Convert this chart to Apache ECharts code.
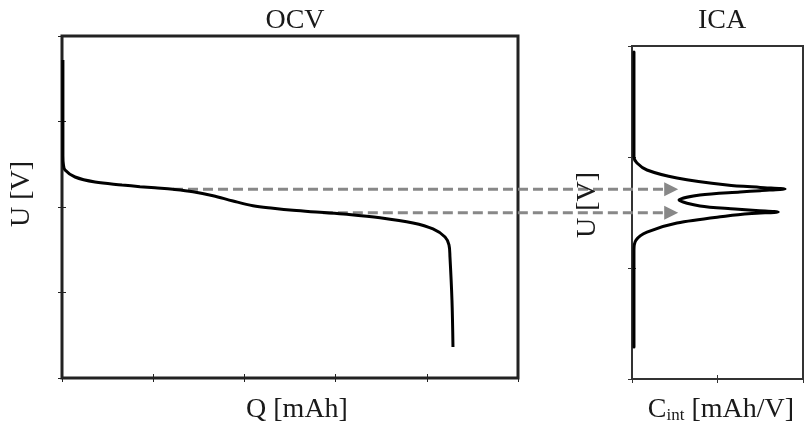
<!DOCTYPE html>
<html>
<head>
<meta charset="utf-8">
<script src="https://cdn.jsdelivr.net/npm/echarts@6/dist/echarts.min.js"></script>
<style>html,body{margin:0;padding:0;background:#fff}#c{width:805px;height:428px}</style>
</head>
<body>
<div id="c"></div>
<script>
// OCV curve: charge Q (axis 0..5) vs voltage U (axis 0..4)
var ocvQ = [0.01, 0.01, 0.015, 0.033, 0.143, 0.362, 0.658, 0.855, 1.02, 1.217, 1.436, 1.656, 1.875, 2.094, 2.314, 2.533, 2.829, 3.125, 3.487, 3.849, 4.068, 4.20, 4.243, 4.254, 4.276, 4.287];
var ocvU = [3.72, 2.60, 2.50, 2.433, 2.351, 2.292, 2.258, 2.238, 2.224, 2.207, 2.179, 2.132, 2.070, 2.015, 1.985, 1.961, 1.938, 1.915, 1.875, 1.813, 1.743, 1.649, 1.556, 1.415, 0.91, 0.363];
// ICA curve: incremental capacity C (axis 0..2) vs voltage U (axis 0..3)
var icaC = [0.023, 0.023, 0.058, 0.175, 0.526, 1.111, 1.50, 1.79, 1.50, 1.263, 0.795, 0.55, 0.795, 1.205, 1.45, 1.71, 1.40, 1.111, 0.526, 0.175, 0.047, 0.023, 0.023];
var icaU = [2.946, 2.00, 1.946, 1.883, 1.811, 1.748, 1.726, 1.712, 1.697, 1.685, 1.658, 1.613, 1.559, 1.532, 1.518, 1.505, 1.490, 1.468, 1.405, 1.324, 1.252, 1.162, 0.288];
// Arrows: from OCV plateaus to ICA peaks
var arrowQ = [1.217, 2.86];
var arrowU = [2.207, 1.934];
var arrowEndC = [0.54, 0.54];
// Axis ranges / tick intervals
var ocvXMax = 5, ocvYMax = 4, icaXMax = 2, icaYMax = 3;
var titles = ['OCV', 'ICA'];

function zip(a, b) { return a.map(function (v, i) { return [v, b[i]]; }); }

var FONT = 'Liberation Serif';
var chart = echarts.init(document.getElementById('c'), null, {renderer: 'canvas'});

function ax(pos, grid, max, color) {
  return {
    type: 'value', gridIndex: grid, position: pos, min: 0, max: max, interval: 1,
    axisLine: {show: false},
    axisTick: {show: true, inside: true, length: 4, lineStyle: {color: color, width: 1}},
    axisLabel: {show: false}, splitLine: {show: false}
  };
}

chart.setOption({
  animation: false,
  backgroundColor: '#fff',
  title: [
    {text: titles[0], left: 290, top: 2, textAlign: 'center', textStyle: {fontFamily: FONT, fontSize: 28, fontWeight: 'normal', color: '#1a1a1a'}},
    {text: titles[1], left: 717, top: 2, textAlign: 'center', textStyle: {fontFamily: FONT, fontSize: 28, fontWeight: 'normal', color: '#1a1a1a'}}
  ],
  grid: [
    {left: 62, top: 36, right: 287, bottom: 50, show: true, borderColor: '#222', borderWidth: 3, backgroundColor: 'transparent'},
    {left: 632, top: 46, right: 2, bottom: 49, show: true, borderColor: '#333', borderWidth: 2, backgroundColor: 'transparent'}
  ],
  xAxis: [
    ax('bottom', 0, ocvXMax, '#222'),
    ax('top', 0, ocvXMax, '#222'),
    ax('bottom', 1, icaXMax, '#333'),
    ax('top', 1, icaXMax, '#333')
  ],
  yAxis: [
    ax('left', 0, ocvYMax, '#222'),
    ax('right', 0, ocvYMax, '#222'),
    ax('left', 1, icaYMax, '#333'),
    ax('right', 1, icaYMax, '#333')
  ],
  series: [
    {type: 'line', xAxisIndex: 0, yAxisIndex: 0, data: zip(ocvQ, ocvU), showSymbol: false, smooth: 0.35,
     lineStyle: {color: '#000', width: 3}, clip: false, z: 3},
    {type: 'line', xAxisIndex: 2, yAxisIndex: 2, data: zip(icaC, icaU), showSymbol: false, smooth: 0.3,
     lineStyle: {color: '#000', width: 3, cap: 'round', join: 'round'}, clip: false, z: 3}
  ]
});

var els = [];
var tstyle = {fontFamily: FONT, fontSize: 28, fill: '#1a1a1a'};
els.push({type: 'text', x: 22, y: 194, rotation: Math.PI / 2, z: 10,
  style: Object.assign({text: 'U [V]', align: 'center', verticalAlign: 'middle'}, tstyle)});
els.push({type: 'text', x: 588, y: 205, rotation: Math.PI / 2, z: 10,
  style: Object.assign({text: 'U [V]', align: 'center', verticalAlign: 'middle'}, tstyle)});
els.push({type: 'text', x: 297, y: 410, z: 10,
  style: Object.assign({text: 'Q [mAh]', align: 'center', verticalAlign: 'middle'}, tstyle)});
els.push({type: 'text', x: 721, y: 410, z: 10,
  style: {text: '{a|C}{b|int}{a| [mAh/V]}', align: 'center', verticalAlign: 'middle',
    rich: {a: {fontFamily: FONT, fontSize: 28, fill: '#1a1a1a'},
           b: {fontFamily: FONT, fontSize: 17, fill: '#1a1a1a', verticalAlign: 'bottom', padding: [12, 0, 0, 0]}}}});

for (var i = 0; i < arrowQ.length; i++) {
  var p0 = chart.convertToPixel({xAxisIndex: 0, yAxisIndex: 0}, [arrowQ[i], arrowU[i]]);
  var pe = chart.convertToPixel({xAxisIndex: 2, yAxisIndex: 2}, [arrowEndC[i], 1]);
  var y = p0[1], x0 = p0[0], x1 = pe[0];
  els.push({type: 'line', z: 2, shape: {x1: x0, y1: y, x2: x1 - 12, y2: y},
    style: {stroke: '#888', lineWidth: 3, lineDash: [10, 5]}});
  els.push({type: 'polygon', z: 2, shape: {points: [[x1, y], [x1 - 14, y - 7], [x1 - 14, y + 7]]},
    style: {fill: '#888'}});
}
chart.setOption({graphic: els});
</script>
</body>
</html>
